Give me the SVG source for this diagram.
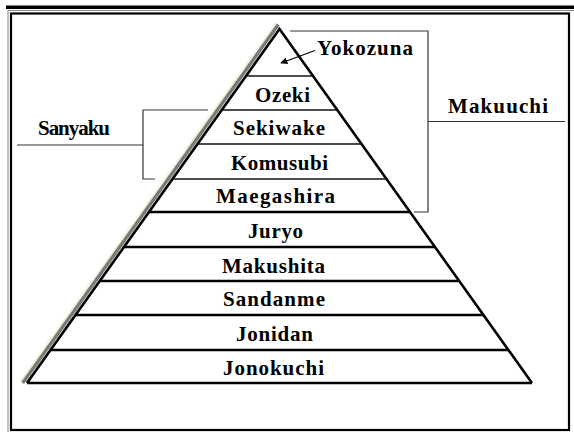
<svg xmlns="http://www.w3.org/2000/svg" width="574" height="432" viewBox="0 0 574 432">
<defs>
<style>
.lbl{font-family:"Liberation Serif","Times New Roman",serif;font-weight:bold;font-size:21px;fill:#000}
.thin{stroke:#111;stroke-width:1.3;fill:none}
.thick{stroke:#000;stroke-width:2.6;fill:none}
.brk{stroke:#333;stroke-width:1.2;fill:none}
</style>
<marker id="ah" viewBox="0 0 10 10" refX="9" refY="5" markerWidth="7" markerHeight="7" orient="auto" markerUnits="userSpaceOnUse">
<path d="M0,0 L10,5 L0,10 z" fill="#000"/>
</marker>
</defs>
<rect width="574" height="432" fill="#fff"/>
<g id="frame">
<rect x="6" y="5.5" width="568" height="3.5" fill="#000"/>
<line x1="8" y1="10.5" x2="574" y2="10.5" stroke="#888" stroke-width="1"/>
<line x1="8" y1="10" x2="8" y2="432" stroke="#888" stroke-width="1"/>
<rect x="11" y="13.5" width="558" height="416.5" fill="none" stroke="#000" stroke-width="2.2"/>
</g>
<g id="pyramid">
<line x1="276.3" y1="23.1" x2="21.1" y2="381" stroke="#f8eedb" stroke-width="2.4" stroke-linecap="round"/>
<line x1="278.3" y1="24.6" x2="22.7" y2="383" stroke="#7a7a7a" stroke-width="3.4"/>
<polyline class="thick" points="27,383 279.5,29 532,383"/>
</g>
<g id="tiers">
<line class="thin" x1="246" y1="76" x2="313" y2="76"/>
<line class="thin" x1="221.7" y1="110" x2="337.3" y2="110"/>
<line class="thin" x1="197.5" y1="144" x2="361.5" y2="144"/>
<line class="thin" x1="172.5" y1="179" x2="386.5" y2="179"/>
<line class="thick" x1="149" y1="212" x2="410" y2="212"/>
<line class="thick" x1="124" y1="247" x2="435" y2="247"/>
<line class="thick" x1="99.8" y1="281" x2="459.2" y2="281"/>
<line class="thick" x1="75.5" y1="315" x2="483.5" y2="315"/>
<line class="thick" x1="50.5" y1="350" x2="508.5" y2="350"/>
<line class="thick" x1="27" y1="383" x2="532" y2="383"/>
</g>
<g id="yokozuna"><text class="lbl" x="317" y="55" textLength="96" lengthAdjust="spacing">Yokozuna</text></g>
<g id="ozeki"><text class="lbl" x="255" y="102" textLength="55" lengthAdjust="spacing">Ozeki</text></g>
<g id="sekiwake"><text class="lbl" x="233" y="135" textLength="92" lengthAdjust="spacing">Sekiwake</text></g>
<g id="komusubi"><text class="lbl" x="231" y="170" textLength="97" lengthAdjust="spacing">Komusubi</text></g>
<g id="maegashira"><text class="lbl" x="216" y="203" textLength="119" lengthAdjust="spacing">Maegashira</text></g>
<g id="juryo"><text class="lbl" x="248" y="238" textLength="55" lengthAdjust="spacing">Juryo</text></g>
<g id="makushita"><text class="lbl" x="222" y="273" textLength="103" lengthAdjust="spacing">Makushita</text></g>
<g id="sandanme"><text class="lbl" x="223" y="306" textLength="102" lengthAdjust="spacing">Sandanme</text></g>
<g id="jonidan"><text class="lbl" x="236" y="341" textLength="77" lengthAdjust="spacing">Jonidan</text></g>
<g id="jonokuchi"><text class="lbl" x="223" y="375" textLength="101" lengthAdjust="spacing">Jonokuchi</text></g>
<g id="makuuchi"><text class="lbl" x="448" y="113" textLength="100" lengthAdjust="spacing">Makuuchi</text></g>
<g id="sanyaku"><text class="lbl" x="38" y="135" textLength="72" lengthAdjust="spacing">Sanyaku</text></g>
<g id="connectors">
<line x1="315" y1="50.5" x2="281" y2="63" stroke="#000" stroke-width="1.2" marker-end="url(#ah)"/>
<polyline class="brk" points="290,31 428,31 428,212 414,212"/>
<line class="brk" x1="428" y1="121.5" x2="565" y2="121.5"/>
<polyline class="brk" points="208,110 143,110 143,179 155,179"/>
<line class="brk" x1="17" y1="145" x2="143" y2="145"/>
</g>
</svg>
